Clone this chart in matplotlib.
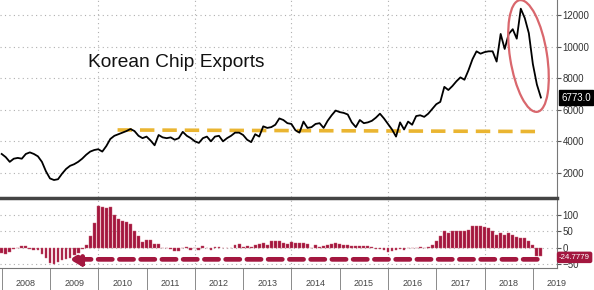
import numpy as np
import matplotlib
matplotlib.use("Agg")
import matplotlib.pyplot as plt
from matplotlib.patches import Ellipse

plt.rcParams['font.family'] = ['Liberation Sans', 'DejaVu Sans']

# monthly data, Jan 2008 .. Mar 2019
start_year = 2008
exports = [
    3200, 3000, 2700, 2900, 2950, 2900, 3200, 3300, 3200, 3050, 2700, 2100,
    1650, 1550, 1600, 1950, 2250, 2450, 2550, 2700, 2900, 3150, 3350, 3450,
    3500, 3350, 3700, 4150, 4350, 4450, 4550, 4650, 4780, 4650, 4350, 4200,
    4300, 4050, 3750, 4400, 4250, 4200, 4250, 4100, 4200, 4600, 4350, 4200,
    4000, 3900, 4200, 4300, 4000, 4300, 4350, 4000, 4200, 4350, 4550, 4550,
    4400, 4100, 3950, 4450, 4300, 4950, 4850, 4900, 5050, 5450, 5350, 5150,
    5100, 4700, 4550, 5250, 4850, 4900, 5100, 5150, 4850, 5300, 5650, 5950,
    5850, 5800, 5700, 5200, 4900, 5350, 5150, 5200, 5300, 5500, 5750, 5450,
    5100, 4750, 4300, 5200, 4750, 5250, 5050, 5600, 5650, 5550, 5750, 6050,
    6350, 6500, 7450, 7250, 7500, 7800, 8050, 7900, 8500, 9200, 9700, 9550,
    9650, 9700, 9700, 9050, 10800, 9850, 10800, 11100, 10500, 12400, 11800, 10850,
    8900, 7600, 6773,
]
yoy = [
    -15, -18, -12, -5, 0, 5, 4, -3, -8, -6, -18, -30,
    -45, -48, -42, -38, -35, -30, -22, -15, -5, 8, 35, 75,
    125, 122, 120, 123, 98, 88, 80, 77, 73, 50, 35, 18,
    23, 22, 10, 10, 0, 0, -3, -10, -10, -2, 1, -6,
    -2, -8, 5, 0, -8, 2, 1, 0, 0, 0, 8, 10,
    3, 5, 3, 8, 12, 15, 8, 20, 20, 20, 14, 12,
    16, 14, 14, 14, 10, 0, 8, 3, 5, 8, 12, 13,
    12, 9, 7, 5, 4, 5, 4, 5, 2, -3, -5, -8,
    -12, -10, -8, -3, -6, 0, 0, 0, 2, 0, 2, 8,
    20, 35, 52, 45, 52, 50, 51, 52, 55, 67, 66, 66,
    63, 60, 50, 40, 46, 40, 45, 38, 33, 30, 28, 20,
    8, -25, -25,
]
last_yoy = -24.7779
years = list(range(2008, 2020))
top_ticks = [2000, 4000, 6000, 8000, 10000, 12000]
bottom_ticks = [-50, 0, 50, 100]

t = start_year + np.arange(len(exports)) / 12.0

fig = plt.figure(figsize=(5.94, 2.90), dpi=100)
ax1 = fig.add_axes([0.0, 0.321, 0.9377, 0.679])
ax2 = fig.add_axes([0.0, 0.076, 0.9377, 0.241])

xmin, xmax = 2007.965, 2019.5
grid_kw = dict(color='#b0b0b0', linestyle=(0, (1, 3)), linewidth=0.8)

# --- top panel ---
ax1.plot(t, exports, color='black', linewidth=1.3, zorder=3)
ax1.plot([2010.4, 2019.2], [4720, 4620], color='#eab531', linewidth=2.6,
         linestyle=(0, (4, 2.2)), zorder=2)
ax1.set_xlim(xmin, xmax)
ax1.set_ylim(480, 12950)
ax1.set_yticks(top_ticks)
ax1.set_xticks(years[2::2])
ax1.grid(True, **grid_kw)
ax1.yaxis.tick_right()
ax1.tick_params(axis='y', direction='out', length=3, width=0.8, colors='#555555',
                labelsize=7, labelcolor='#333333', pad=1)
ax1.tick_params(axis='x', length=0, labelbottom=False)
for s in ['top', 'left', 'bottom']:
    ax1.spines[s].set_visible(False)
ax1.spines['right'].set_color('#777777')
ax1.text(0.158, 0.685, 'Korean Chip Exports', transform=ax1.transAxes,
         fontsize=13.8, color='#111111', va='center', ha='left')
ax1.annotate('%.1f' % exports[-1], xy=(1.0, exports[-1]),
             xycoords=('axes fraction', 'data'), xytext=(3, 0),
             textcoords='offset points', fontsize=7, color='white',
             va='center', ha='left',
             bbox=dict(boxstyle='square,pad=0.25', fc='black', ec='black'),
             annotation_clip=False)

# red ellipse around the drop
fig.patches.append(Ellipse((5.285, 2.34), 0.37, 1.13, angle=9,
                           transform=fig.dpi_scale_trans, fill=False,
                           edgecolor='#d9676d', linewidth=1.6))

# --- bottom panel ---
ax2.bar(t, yoy, width=0.058, color='#a3173f', edgecolor='#c9576f',
        linewidth=0.3, zorder=3)
ax2.annotate('', xy=(2009.35, -35), xytext=(2019.15, -35),
             arrowprops=dict(arrowstyle='-|>,head_length=0.6,head_width=0.35',
                             color='#a3173f', linewidth=3.4,
                             linestyle=(0, (3, 1.5))), zorder=4)
ax2.set_xlim(xmin, xmax)
ax2.set_ylim(-61, 150)
ax2.set_yticks(bottom_ticks)
ax2.grid(True, axis='y', **grid_kw)
for x in years[2::2]:
    ax2.axvline(x, **grid_kw)
ax2.yaxis.tick_right()
ax2.tick_params(axis='y', direction='out', length=3, width=0.8, colors='#555555',
                labelsize=7, labelcolor='#333333', pad=1)
ax2.set_xticks(years)
ax2.set_xticklabels([])
ax2.set_xticks([y + 0.5 for y in years], minor=True)
ax2.set_xticklabels([str(y) for y in years], minor=True, fontsize=6.5,
                    color='#444444')
ax2.tick_params(axis='x', which='major', direction='out', length=16,
                width=0.6, color='#777777')
ax2.tick_params(axis='x', which='minor', length=0, pad=8)
ax2.spines['left'].set_visible(False)
ax2.spines['top'].set_color('#444444')
ax2.spines['top'].set_linewidth(2.5)
ax2.spines['right'].set_color('#777777')
ax2.spines['bottom'].set_color('#777777')
ax2.annotate('%.4f' % last_yoy, xy=(1.0, -29), xycoords=('axes fraction', 'data'),
             xytext=(1.5, 0), textcoords='offset points', fontsize=5.6,
             color='white', va='center', ha='left',
             bbox=dict(boxstyle='round,pad=0.2', fc='#a3173f', ec='#a3173f'),
             annotation_clip=False)

fig.savefig('out.png', dpi=100)
